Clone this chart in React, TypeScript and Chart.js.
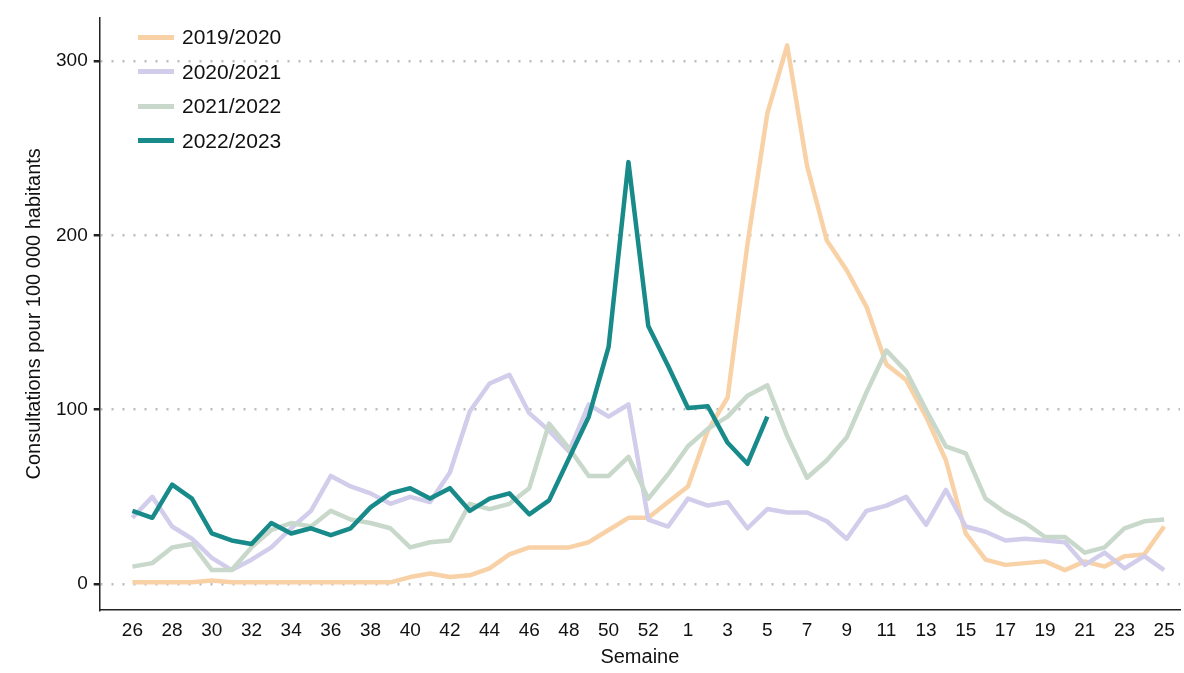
import { useEffect, useRef } from "react"
import { Chart, registerables } from "chart.js"

Chart.register(...registerables)

const weeks = [26, 27, 28, 29, 30, 31, 32, 33, 34, 35, 36, 37, 38, 39, 40, 41, 42, 43, 44, 45, 46, 47, 48, 49, 50, 51, 52, 53,
  1, 2, 3, 4, 5, 6, 7, 8, 9, 10, 11, 12, 13, 14, 15, 16, 17, 18, 19, 20, 21, 22, 23, 24, 25]

const s2019 = [1, 1, 1, 1, 2, 1, 1, 1, 1, 1, 1, 1, 1, 1, 4, 6, 4, 5, 9, 17, 21, 21, 21, 24, 31, 38, 38, 47,
  56, 88, 107, 195, 270, 309, 240, 197, 180, 159, 126, 117, 96, 71, 29, 14, 11, 12, 13, 8, 13, 10, 16, 17, 33]
const s2020 = [38, 50, 33, 26, 15, 8, 14, 21, 32, 42, 62, 56, 52, 46, 50, 47, 64, 99, 115, 120, 98, 88, 76, 103, 96, 103, 37, 33,
  49, 45, 47, 32, 43, 41, 41, 36, 26, 42, 45, 50, 34, 54, 33, 30, 25, 26, 25, 24, 11, 18, 9, 16, 8]
const s2021 = [10, 12, 21, 23, 8, 8, 21, 31, 35, 33, 42, 37, 35, 32, 21, 24, 25, 46, 43, 46, 55, 92, 78, 62, 62, 73, 49, 63,
  79, 89, 96, 108, 114, 85, 61, 71, 84, 110, 134, 122, 100, 79, 75, 49, 41, 35, 27, 27, 18, 21, 32, 36, 37]
const s2022 = [42, 38, 57, 49, 29, 25, 23, 35, 29, 32, 28, 32, 44, 52, 55, 49, 55, 42, 49, 52, 40, 48, 72, 96, 136, 242, 148, 125,
  101, 102, 81, 69, 96]

const seasons = ["2019/2020", "2020/2021", "2021/2022", "2022/2023"]
const colors = ["#f9d1a6", "#d1cdeb", "#c8d8ca", "#188a8a"]
const widths = [4.5, 4.5, 4.5, 4.5]

export default function App() {
  const chartRef = useRef<HTMLCanvasElement>(null)
  const chartInstance = useRef<Chart | null>(null)

  useEffect(() => {
    if (!chartRef.current) return
    if (chartInstance.current) chartInstance.current.destroy()
    const series = [s2019, s2020, s2021, s2022]
    chartInstance.current = new Chart(chartRef.current, {
      type: "line",
      data: {
        datasets: series.map((s, k) => ({
          label: seasons[k],
          data: s.map((v, i) => ({ x: i, y: v })),
          borderColor: colors[k],
          borderWidth: widths[k],
          borderJoinStyle: "round" as const,
          pointRadius: 0,
          tension: 0,
          order: 4 - k,
        })),
      },
      options: {
        responsive: false,
        animation: false,
        layout: { padding: { top: 14, right: 4, left: 18, bottom: 4 } },
        plugins: { legend: { display: false }, tooltip: { enabled: false } },
        scales: {
          x: {
            type: "linear",
            min: -1.65,
            max: 52.8,
            afterBuildTicks: (axis) => {
              axis.ticks = weeks.map((_, i) => ({ value: i })).filter((t) => t.value % 2 === 0)
            },
            ticks: {
              autoSkip: false,
              maxRotation: 0,
              color: "#111",
              font: { family: "Liberation Sans", size: 19 },
              callback: (v) => String(weeks[v as number]),
            },
            grid: { display: false, drawTicks: true, tickLength: 6, tickColor: "#222" },
            border: { color: "#222", width: 1.5 },
            title: { display: true, text: "Semaine", color: "#111", font: { family: "Liberation Sans", size: 20 }, padding: 0 },
          },
          y: {
            min: -15,
            max: 325,
            afterBuildTicks: (axis) => {
              axis.ticks = [0, 100, 200, 300].map((v) => ({ value: v }))
            },
            ticks: { color: "#111", font: { family: "Liberation Sans", size: 19 }, padding: 6 },
            grid: {
              color: "#bbb",
              lineWidth: 2.5,
              tickLength: 6,
              tickColor: "#222",
              drawOnChartArea: true,
            },
            border: { color: "#222", width: 1.5, dash: [2, 9] } as any,
            title: {
              display: true,
              text: "Consultations pour 100 000 habitants",
              color: "#111",
              font: { family: "Liberation Sans", size: 20 },
              padding: { bottom: 4 },
            },
          },
        },
      },
    })
    return () => {
      chartInstance.current?.destroy()
      chartInstance.current = null
    }
  }, [])

  return (
    <div style={{ position: "absolute", left: 0, top: 0, width: 1184, height: 673, background: "#fff" }}>
      <canvas ref={chartRef} width={1184} height={673} />
      <div style={{ position: "absolute", left: 138, top: 20, fontFamily: "Liberation Sans", fontSize: 21, color: "#111" }}>
        {seasons.map((s, k) => (
          <div key={s} style={{ display: "flex", alignItems: "center", height: 34.5 }}>
            <span style={{ display: "inline-block", width: 36, height: 5, background: colors[k], marginRight: 8 }} />
            {s}
          </div>
        ))}
      </div>
    </div>
  )
}
